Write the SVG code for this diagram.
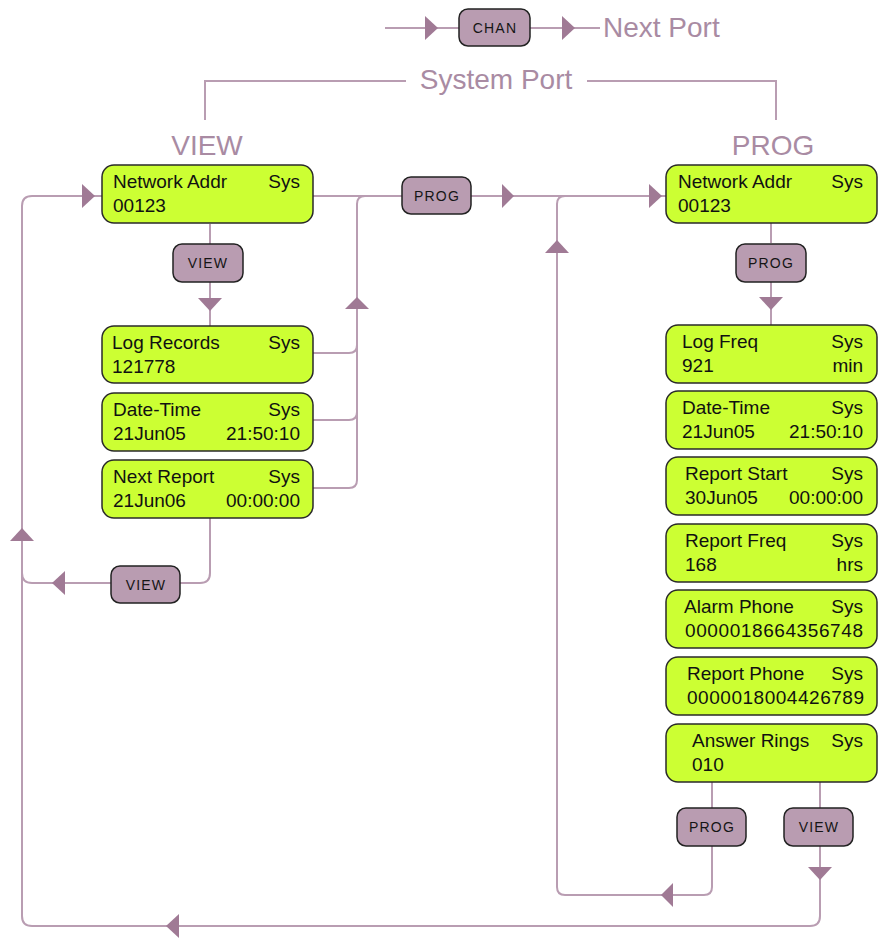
<svg xmlns="http://www.w3.org/2000/svg" width="882" height="940" viewBox="0 0 882 940">
<style>
.ln{fill:none;stroke:#b99db2;stroke-width:2}
.arr{fill:#a07a95}
.lcd{fill:#ccff33;stroke:#2a2a2a;stroke-width:1.5}
.pill{fill:#b99cb1;stroke:#222;stroke-width:1.5}
.pt{font-family:"Liberation Sans",Arial,sans-serif;font-size:14px;letter-spacing:1.2px;fill:#151515;text-anchor:middle}
.t{font-family:"Liberation Sans",Arial,sans-serif;font-size:19px;fill:#111}
.r{text-anchor:end}
.hd{font-family:"Liberation Sans",Arial,sans-serif;font-size:28px;fill:#a98ba3}
</style>
<rect width="882" height="940" fill="#ffffff"/>
<g id="connectors">
<path class="ln" d="M385,28 H459 M530,28 H600"/>
<path class="ln" d="M205,120 V81 H406 M587,81 H776 V120"/>
<path class="ln" d="M210,224 V244 M210,282 V326"/>
<path class="ln" d="M313,196 H402 M471,196 H666"/>
<path class="ln" d="M313,488 H349 Q357,488 357,480 V204 Q357,196 365,196"/>
<path class="ln" d="M313,420 H349 Q357,420 357,412 M313,353 H349 Q357,353 357,345"/>
<path class="ln" d="M210,518 V573 Q210,583 200,583 H180 M111,583 H32 Q22,583 22,573"/>
<path class="ln" d="M820,846 V916 Q820,926 810,926 H32 Q22,926 22,916 V206 Q22,196 32,196 H102"/>
<path class="ln" d="M771,223 V243 M771,282 V325"/>
<path class="ln" d="M712,782 V808 M820,782 V808"/>
<path class="ln" d="M712,846 V887 Q712,895 704,895 H565 Q557,895 557,887 V204 Q557,196 565,196"/>
<polygon class="arr" points="425,16 438,28 425,40"/>
<polygon class="arr" points="562,16 575,28 562,40"/>
<polygon class="arr" points="502,184 514,196 502,208"/>
<polygon class="arr" points="649,184 662,196 649,208"/>
<polygon class="arr" points="82,184 95,196 82,208"/>
<polygon class="arr" points="198,298 222,298 210,311"/>
<polygon class="arr" points="759,297 783,297 771,310"/>
<polygon class="arr" points="345,309 369,309 357,297"/>
<polygon class="arr" points="545,253 569,253 557,240"/>
<polygon class="arr" points="10,541 34,541 22,528"/>
<polygon class="arr" points="65,571 65,595 52,583"/>
<polygon class="arr" points="673,883 673,907 661,895"/>
<polygon class="arr" points="179,914 179,938 166,926"/>
<polygon class="arr" points="808,867 832,867 820,880"/>
</g>
<g id="labels">
<text class="hd" x="603" y="37">Next Port</text>
<text class="hd" x="496" y="89" text-anchor="middle" font-size="27">System Port</text>
<text class="hd" x="207" y="155" text-anchor="middle">VIEW</text>
<text class="hd" x="773" y="155" text-anchor="middle">PROG</text>
</g>
<g id="btn-chan"><rect class="pill" x="459" y="9" width="71" height="37" rx="9"/><text class="pt" x="495" y="33">CHAN</text></g>
<g id="btn-view1"><rect class="pill" x="173" y="244" width="70" height="38" rx="9"/><text class="pt" x="208" y="268">VIEW</text></g>
<g id="btn-prog1"><rect class="pill" x="402" y="177" width="69" height="37" rx="9"/><text class="pt" x="437" y="201">PROG</text></g>
<g id="btn-prog2"><rect class="pill" x="736" y="244" width="70" height="38" rx="9"/><text class="pt" x="771" y="268">PROG</text></g>
<g id="btn-view2"><rect class="pill" x="111" y="566" width="69" height="37" rx="9"/><text class="pt" x="146" y="590">VIEW</text></g>
<g id="btn-prog3"><rect class="pill" x="677" y="808" width="69" height="38" rx="9"/><text class="pt" x="712" y="832">PROG</text></g>
<g id="btn-view3"><rect class="pill" x="784" y="808" width="69" height="38" rx="9"/><text class="pt" x="819" y="832">VIEW</text></g>

<g id="l-netaddr"><rect class="lcd" x="102" y="165" width="211" height="58" rx="12"/><text class="t" x="113" y="188">Network Addr</text><text class="t r" x="300" y="188">Sys</text><text class="t" x="113" y="212">00123</text></g>
<g id="l-logrec"><rect class="lcd" x="102" y="326" width="211" height="57" rx="12"/><text class="t" x="112" y="349">Log Records</text><text class="t r" x="300" y="349">Sys</text><text class="t" x="112" y="373">121778</text></g>
<g id="l-datetime"><rect class="lcd" x="102" y="393" width="211" height="58" rx="12"/><text class="t" x="113" y="416">Date-Time</text><text class="t r" x="300" y="416">Sys</text><text class="t" x="113" y="440">21Jun05</text><text class="t r" x="300" y="440">21:50:10</text></g>
<g id="l-nextrep"><rect class="lcd" x="102" y="460" width="211" height="58" rx="12"/><text class="t" x="113" y="483">Next Report</text><text class="t r" x="300" y="483">Sys</text><text class="t" x="113" y="507">21Jun06</text><text class="t r" x="300" y="507">00:00:00</text></g>

<g id="r-netaddr"><rect class="lcd" x="666" y="165" width="211" height="58" rx="12"/><text class="t" x="678" y="188">Network Addr</text><text class="t r" x="863" y="188">Sys</text><text class="t" x="678" y="212">00123</text></g>
<g id="r-logfreq"><rect class="lcd" x="666" y="325" width="211" height="58" rx="12"/><text class="t" x="682" y="348">Log Freq</text><text class="t r" x="863" y="348">Sys</text><text class="t" x="682" y="372">921</text><text class="t r" x="863" y="372">min</text></g>
<g id="r-datetime"><rect class="lcd" x="666" y="391" width="211" height="58" rx="12"/><text class="t" x="682" y="414">Date-Time</text><text class="t r" x="863" y="414">Sys</text><text class="t" x="682" y="438">21Jun05</text><text class="t r" x="863" y="438">21:50:10</text></g>
<g id="r-repstart"><rect class="lcd" x="666" y="457" width="211" height="58" rx="12"/><text class="t" x="685" y="480">Report Start</text><text class="t r" x="863" y="480">Sys</text><text class="t" x="685" y="504">30Jun05</text><text class="t r" x="863" y="504">00:00:00</text></g>
<g id="r-repfreq"><rect class="lcd" x="666" y="524" width="211" height="58" rx="12"/><text class="t" x="685" y="547">Report Freq</text><text class="t r" x="863" y="547">Sys</text><text class="t" x="685" y="571">168</text><text class="t r" x="863" y="571">hrs</text></g>
<g id="r-alarmph"><rect class="lcd" x="666" y="590" width="211" height="58" rx="12"/><text class="t" x="684" y="613">Alarm Phone</text><text class="t r" x="863" y="613">Sys</text><text class="t" x="685" y="637" textLength="178" lengthAdjust="spacing">0000018664356748</text></g>
<g id="r-repph"><rect class="lcd" x="666" y="657" width="211" height="58" rx="12"/><text class="t" x="687" y="680">Report Phone</text><text class="t r" x="863" y="680">Sys</text><text class="t" x="687" y="704" textLength="177" lengthAdjust="spacing">0000018004426789</text></g>
<g id="r-ansrings"><rect class="lcd" x="666" y="724" width="211" height="58" rx="12"/><text class="t" x="692" y="747">Answer Rings</text><text class="t r" x="863" y="747">Sys</text><text class="t" x="692" y="771">010</text></g>
</svg>
